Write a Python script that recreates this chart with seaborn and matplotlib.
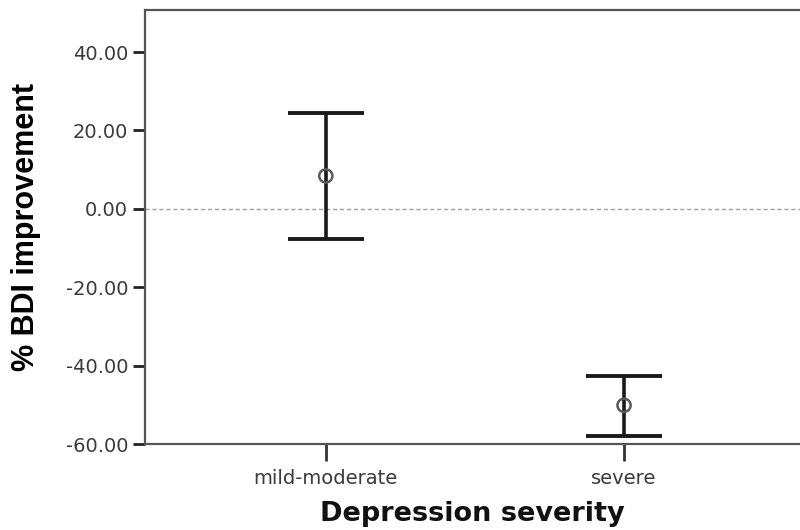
import matplotlib
matplotlib.use("Agg")
import matplotlib.pyplot as plt
import seaborn as sns
import pandas as pd
from matplotlib.ticker import FormatStrFormatter

categories = ["mild-moderate", "severe"]
means = [8.4, -50.1]
lower = [-7.6, -57.8]
upper = [24.4, -42.5]
yticks = [40, 20, 0, -20, -40, -60]

df = pd.DataFrame({"severity": categories, "mean": means, "lo": lower, "hi": upper})

sns.set_style("white")
fig = plt.figure(figsize=(8, 5.3), dpi=100)
ax = fig.add_axes([0.181, 0.162, 0.819, 0.819])

# error bars
pos = list(range(len(categories)))
yerr = [[m - l for m, l in zip(means, lower)], [h - m for m, h in zip(means, upper)]]
ax.errorbar(pos, means, yerr=yerr, fmt="none", ecolor="#1a1a1a", elinewidth=2.6,
            capsize=27.5, capthick=2.8, zorder=2)
sns.scatterplot(data=df, x="severity", y="mean", ax=ax, marker="o", s=90,
                facecolor="none", edgecolor="#5a5a5a", linewidth=1.8, zorder=3)

ax.axhline(0, color="#a0a0a0", linestyle=(0, (3, 2)), linewidth=1.0, zorder=1)

ax.set_xlim(-0.607, 1.59)
ax.set_ylim(-60, 50.7)
ax.set_yticks(yticks)
ax.yaxis.set_major_formatter(FormatStrFormatter("%.2f"))
ax.set_xticks(pos)
ax.set_xticklabels(categories)

for side in ["left", "bottom", "top"]:
    ax.spines[side].set_color("#555555")
    ax.spines[side].set_linewidth(1.6)
ax.spines["right"].set_visible(False)

ax.tick_params(axis="y", direction="out", length=9, width=2.0, color="#222222",
               labelsize=14, labelcolor="#3a3a3a", pad=3, left=True)
ax.tick_params(axis="x", direction="out", length=12, width=2.0, color="#333333",
               labelsize=14, labelcolor="#3a3a3a", pad=6, bottom=True)
for lab in ax.get_yticklabels() + ax.get_xticklabels():
    lab.set_family("DejaVu Sans")

ax.set_ylabel("% BDI improvement", fontsize=22, fontweight="bold",
              family="Liberation Sans", fontstretch="normal", labelpad=18, color="black")
ax.set_xlabel("Depression severity", fontsize=19.5, fontweight="bold",
              family="DejaVu Sans", fontstretch="normal", labelpad=9, color="#111111")

fig.savefig("out.png", dpi=100)
